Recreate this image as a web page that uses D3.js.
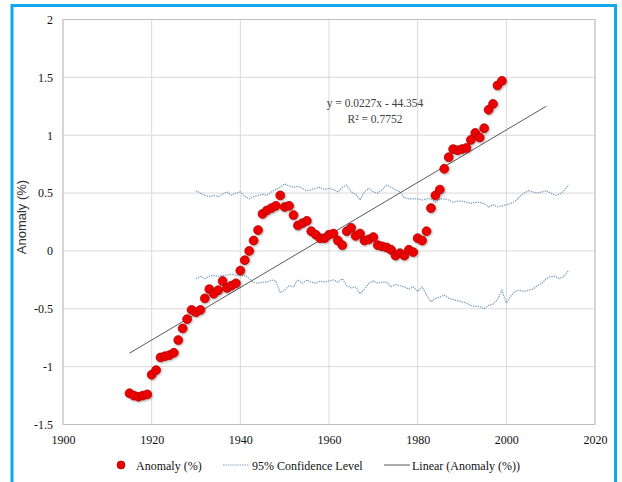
<!DOCTYPE html>
<html>
<head>
<meta charset="utf-8">
<script src="https://cdn.jsdelivr.net/npm/d3@7/dist/d3.min.js"></script>
<style>
  html, body { margin: 0; padding: 0; background: #fff; }
  svg { display: block; }
  .serif { font-family: "Liberation Serif", "Times New Roman", Times, "DejaVu Serif", serif; }
</style>
</head>
<body>
<svg id="chart" width="622" height="482"></svg>
<script>
// Annual anomaly series (%)
const years = d3.range(1915, 2000);
const anomaly = [
  -1.23, -1.25, -1.26, -1.25, -1.24, -1.07, -1.03, -0.92, -0.91, -0.90,
  -0.88, -0.77, -0.67, -0.59, -0.51, -0.53, -0.51, -0.41, -0.33, -0.37,
  -0.34, -0.26, -0.32, -0.30, -0.28, -0.17, -0.08, 0.00, 0.09, 0.18,
  0.32, 0.35, 0.37, 0.39, 0.48, 0.38, 0.39, 0.31, 0.22, 0.24,
  0.26, 0.17, 0.14, 0.11, 0.11, 0.14, 0.15, 0.09, 0.05, 0.17,
  0.20, 0.13, 0.15, 0.09, 0.10, 0.12, 0.05, 0.04, 0.03, 0.01,
  -0.04, -0.02, -0.04, 0.01, -0.01, 0.11, 0.09, 0.17, 0.37, 0.48,
  0.53, 0.71, 0.81, 0.88, 0.87, 0.88, 0.89, 0.96, 1.02, 0.98,
  1.06, 1.22, 1.27, 1.43, 1.47
];

// 95% confidence band, annual
const ciYears = d3.range(1930, 2015);
const ciUpper = [
  0.52, 0.50, 0.48, 0.47, 0.48, 0.47, 0.49, 0.51, 0.48, 0.50,
  0.51, 0.47, 0.45, 0.47, 0.48, 0.49, 0.48, 0.51, 0.53, 0.55,
  0.58, 0.56, 0.55, 0.56, 0.54, 0.52, 0.53, 0.54, 0.55, 0.53,
  0.54, 0.53, 0.51, 0.55, 0.57, 0.51, 0.49, 0.44, 0.51, 0.54,
  0.51, 0.50, 0.53, 0.57, 0.55, 0.53, 0.51, 0.46, 0.45, 0.45,
  0.45, 0.44, 0.45, 0.45, 0.42, 0.45, 0.45, 0.44, 0.42, 0.43,
  0.43, 0.42, 0.41, 0.42, 0.42, 0.41, 0.38, 0.40, 0.38, 0.39,
  0.40, 0.41, 0.43, 0.47, 0.50, 0.52, 0.51, 0.50, 0.51, 0.52,
  0.50, 0.48, 0.49, 0.52, 0.57
];
const ciLower = [
  -0.24, -0.22, -0.24, -0.22, -0.21, -0.22, -0.21, -0.21, -0.20, -0.21,
  -0.21, -0.21, -0.24, -0.27, -0.28, -0.27, -0.27, -0.25, -0.26, -0.36,
  -0.34, -0.30, -0.31, -0.25, -0.28, -0.25, -0.27, -0.28, -0.26, -0.27,
  -0.26, -0.25, -0.27, -0.24, -0.30, -0.32, -0.31, -0.37, -0.33, -0.28,
  -0.26, -0.28, -0.27, -0.27, -0.31, -0.29, -0.30, -0.31, -0.33, -0.31,
  -0.35, -0.31, -0.38, -0.44, -0.41, -0.40, -0.38, -0.41, -0.42, -0.43,
  -0.44, -0.45, -0.47, -0.48, -0.48, -0.50, -0.47, -0.46, -0.42, -0.34,
  -0.45, -0.39, -0.35, -0.34, -0.35, -0.34, -0.33, -0.30, -0.28, -0.24,
  -0.22, -0.22, -0.24, -0.22, -0.17
];

// Linear trend: y = 0.0227x - 44.354
const trendSlope = 0.0227;
const trendIntercept = -44.354;
const trendYears = [1915, 2009];
const trendLabel = ["y = 0.0227x - 44.354", "R\u00B2 = 0.7752"];

const xTicks = [1900, 1920, 1940, 1960, 1980, 2000, 2020];
const yTicks = [-1.5, -1, -0.5, 0, 0.5, 1, 1.5, 2];
const legendLabels = ["Anomaly (%)", "95% Confidence Level", "Linear (Anomaly (%))"];

const svg = d3.select("#chart");
const W = 622, H = 482;
const plot = { left: 63, right: 595, top: 19.5, bottom: 424.5 };

svg.append("rect").attr("width", W).attr("height", H).attr("fill", "#fff");

// outer frame
svg.append("rect")
  .attr("x", 12).attr("y", 5.5).attr("width", 603.5).attr("height", 500)
  .attr("fill", "none").attr("stroke", "#12a9ec").attr("stroke-width", 3);

const defs = svg.append("defs");
const f = defs.append("filter").attr("id", "dotShadow")
  .attr("x", "-50%").attr("y", "-50%").attr("width", "200%").attr("height", "200%");
f.append("feDropShadow").attr("dx", 0.8).attr("dy", 1).attr("stdDeviation", 0.9)
  .attr("flood-color", "#000").attr("flood-opacity", 0.35);

const x = d3.scaleLinear().domain([1900, 2020]).range([plot.left, plot.right]);
const y = d3.scaleLinear().domain([-1.5, 2]).range([plot.bottom, plot.top]);

// gridlines
const grid = svg.append("g");
grid.selectAll("line.h").data(yTicks).join("line")
  .attr("x1", plot.left).attr("x2", plot.right)
  .attr("y1", d => y(d)).attr("y2", d => y(d))
  .attr("stroke", "#d9d9d9").attr("stroke-width", 1);
grid.selectAll("line.v").data(xTicks).join("line")
  .attr("y1", plot.top).attr("y2", plot.bottom)
  .attr("x1", d => x(d)).attr("x2", d => x(d))
  .attr("stroke", "#d9d9d9").attr("stroke-width", 1);
svg.append("rect")
  .attr("x", plot.left).attr("y", plot.top)
  .attr("width", plot.right - plot.left).attr("height", plot.bottom - plot.top)
  .attr("fill", "none").attr("stroke", "#bfbfbf").attr("stroke-width", 1);

// axes (labels only)
const xAxis = svg.append("g")
  .attr("transform", `translate(0,${plot.bottom})`)
  .call(d3.axisBottom(x).tickValues(xTicks).tickFormat(d3.format("d")).tickSize(0).tickPadding(11));
const yAxis = svg.append("g")
  .attr("transform", `translate(${plot.left},0)`)
  .call(d3.axisLeft(y).tickValues(yTicks).tickFormat(d => String(d)).tickSize(0).tickPadding(10));
[xAxis, yAxis].forEach(a => {
  a.attr("font-family", null);
  a.select(".domain").remove();
  a.selectAll("text").attr("class", "serif").style("font-size", "12px").attr("fill", "#111");
});

svg.append("text")
  .attr("transform", `translate(26,${(plot.top + plot.bottom) / 2 - 5}) rotate(-90)`)
  .attr("text-anchor", "middle")
  .style("font-family", "'Liberation Sans', Arial, sans-serif")
  .style("font-size", "13px").attr("fill", "#333")
  .text("Anomaly (%)");

// confidence band lines
const ciLine = d3.line().x(d => x(d[0])).y(d => y(d[1]));
[ciUpper, ciLower].forEach(vals => {
  svg.append("path")
    .datum(ciYears.map((yr, i) => [yr, vals[i]]))
    .attr("d", ciLine)
    .attr("fill", "none").attr("stroke", "#7aa0bd").attr("stroke-width", 1.2)
    .attr("stroke-dasharray", "1.4,1");
});

// linear trendline
svg.append("line")
  .attr("x1", x(trendYears[0])).attr("y1", y(trendSlope * trendYears[0] + trendIntercept))
  .attr("x2", x(trendYears[1])).attr("y2", y(trendSlope * trendYears[1] + trendIntercept))
  .attr("stroke", "#5a5a5a").attr("stroke-width", 1);

// anomaly points
svg.append("g").attr("filter", "url(#dotShadow)")
  .selectAll("circle").data(years.map((yr, i) => [yr, anomaly[i]])).join("circle")
  .attr("cx", d => x(d[0])).attr("cy", d => y(d[1])).attr("r", 4.4)
  .attr("fill", "#ee0000").attr("stroke", "#b00000").attr("stroke-width", 0.8);

// trend equation
svg.append("g").selectAll("text").data(trendLabel).join("text")
  .attr("class", "serif")
  .attr("x", 375).attr("y", (d, i) => 107 + i * 16)
  .attr("text-anchor", "middle")
  .style("font-size", "11.5px").attr("fill", "#404040")
  .text(d => d);

// legend
const ly = 465;
const lg = svg.append("g");
lg.append("circle").attr("cx", 121).attr("cy", ly).attr("r", 4)
  .attr("fill", "#ee0000").attr("stroke", "#b00000").attr("stroke-width", 0.8);
lg.append("line").attr("x1", 223).attr("x2", 249).attr("y1", ly).attr("y2", ly)
  .attr("stroke", "#7aa0bd").attr("stroke-width", 1.2).attr("stroke-dasharray", "1.4,1");
lg.append("line").attr("x1", 384).attr("x2", 410).attr("y1", ly).attr("y2", ly)
  .attr("stroke", "#5a5a5a").attr("stroke-width", 1);
lg.selectAll("text").data([[136, legendLabels[0]], [252, legendLabels[1]], [412, legendLabels[2]]])
  .join("text")
  .attr("class", "serif")
  .attr("x", d => d[0]).attr("y", ly + 4.5)
  .style("font-size", "12px").attr("fill", "#111")
  .text(d => d[1]);
</script>
</body>
</html>
